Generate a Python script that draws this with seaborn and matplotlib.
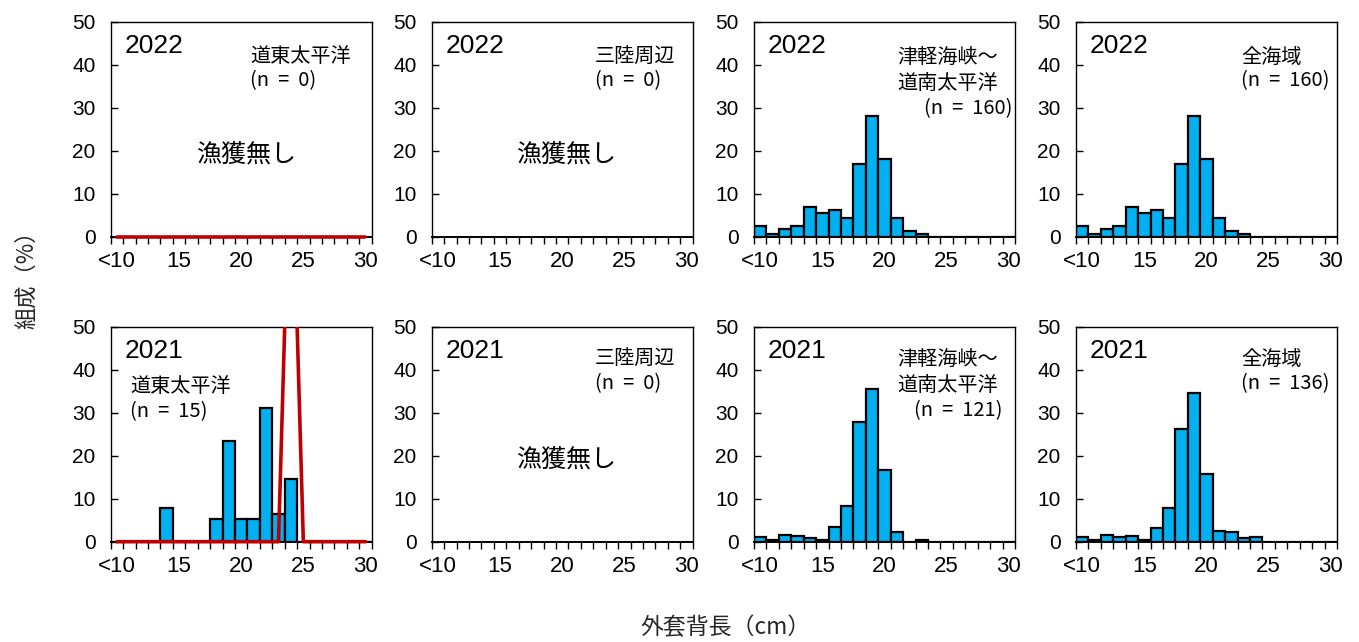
import numpy as np
import pandas as pd
import matplotlib
matplotlib.use("Agg")
import matplotlib.pyplot as plt
import seaborn as sns
from matplotlib import font_manager
from matplotlib.patches import Rectangle

# Mantle-length classes (cm); first class collects everything below 10 cm
length_classes = ["<10"] + [str(v) for v in range(11, 31)]
tick_labels = {0: "<10", 5: "15", 10: "20", 15: "25", 20: "30"}

# Composition (%) per length class
tsugaru_2022 = [2.5, 0.625, 1.875, 2.5, 6.875, 5.625, 6.25, 4.375, 16.875, 28.125,
                18.125, 4.375, 1.25, 0.625, 0, 0, 0, 0, 0, 0, 0]
all_2022 = [2.5, 0.625, 1.875, 2.5, 6.875, 5.625, 6.25, 4.375, 16.875, 28.125,
            18.125, 4.375, 1.25, 0.625, 0, 0, 0, 0, 0, 0, 0]
doto_2021 = [0, 0, 0, 0, 7.8, 0, 0, 0, 5.3, 23.5, 5.3, 5.3, 31.0, 6.5, 14.5,
             0, 0, 0, 0, 0, 0]
tsugaru_2021 = [1.1, 0.5, 1.5, 1.3, 0.8, 0.3, 3.5, 8.4, 27.8, 35.5, 16.7, 2.2,
                0, 0.3, 0, 0, 0, 0, 0, 0, 0]
all_2021 = [1.1, 0.5, 1.5, 1.1, 1.3, 0.3, 3.3, 7.9, 26.1, 34.6, 15.8, 2.5, 2.2,
            0.8, 1.1, 0, 0, 0, 0, 0, 0]

# Red comparison lines in the Doto Pacific panels
doto_line_2022 = [0] * 21
doto_line_2021 = [0] * 14 + [100] + [0] * 6

sns.set_theme(style="white")
available = {f.name for f in font_manager.fontManager.ttflist}
narrow = "Liberation Sans Narrow" if "Liberation Sans Narrow" in available else "Liberation Sans"
plt.rcParams["font.family"] = ["Liberation Sans", "Noto Sans CJK JP", "DejaVu Sans"]
JP = ["Noto Sans CJK JP", "DejaVu Sans"]

W, H = 1359, 642
fig = plt.figure(figsize=(W / 100, H / 100), dpi=100)

BAR_COLOR = "#00B0F0"
LINE_COLOR = "#C00000"

col_left = [110.7, 431.7, 754.0, 1076.0]
row_top = [21.7, 326.7]
panel_w, panel_h = 261.0, 215.0


def px(x, y):
    return x / W, 1 - y / H


def make_axes(col, row):
    l = col_left[col]
    t = row_top[row]
    return fig.add_axes([l / W, 1 - (t + panel_h) / H, panel_w / W, panel_h / H])


def style_axes(ax):
    ax.set_xlim(-0.5, 20.5)
    ax.set_ylim(0, 50)
    ax.set_yticks(range(0, 51, 10))
    ax.set_yticklabels([str(v) for v in range(0, 51, 10)], fontsize=15)
    ax.set_xticks(list(tick_labels.keys()))
    ax.set_xticklabels(list(tick_labels.values()), fontsize=16, family=narrow)
    ax.set_xticks(np.arange(-0.5, 21, 1.0), minor=True)
    ax.tick_params(axis="x", which="major", length=0, pad=10)
    ax.tick_params(axis="x", which="minor", direction="out", length=5, width=1,
                   color="black", bottom=True)
    ax.tick_params(axis="y", which="major", direction="in", length=5, width=1,
                   color="black", left=True, pad=11)
    ax.tick_params(colors="black", which="both")
    for s in ax.spines.values():
        s.set_color("black")
        s.set_linewidth(1.0)
    ax.spines["bottom"].set_linewidth(1.4)
    ax.set_xlabel("")
    ax.set_ylabel("")
    ax.grid(False)
    ax.set_facecolor("white")


def draw_bars(ax, values):
    df = pd.DataFrame({"cls": length_classes, "pct": values})
    sns.barplot(data=df, x="cls", y="pct", order=length_classes, ax=ax,
                color=BAR_COLOR, width=1.0, edgecolor="black", linewidth=1.6,
                saturation=1, errorbar=None)
    for p in ax.patches:
        p.set_facecolor(BAR_COLOR)


def draw_line(ax, values):
    df = pd.DataFrame({"pos": np.arange(len(values)), "pct": values})
    n_before = len(ax.lines)
    sns.lineplot(data=df, x="pos", y="pct", ax=ax, color=LINE_COLOR,
                 linewidth=2.6)
    # keep the line visible on the zero axis while clipping it at the top
    clip = Rectangle((0, -0.05), 1, 1.05, transform=ax.transAxes,
                     facecolor="none", edgecolor="none")
    for ln in ax.lines[n_before:]:
        ln.set_zorder(4)
        ln.set_clip_path(clip)


def txt(x, y, s, size=14, ha="left", va="center", family=None):
    fig.text(*px(x, y), s, fontsize=size, ha=ha, va=va,
             family=family if family else JP, color="black")


panels = [
    # (col, row, bars, line)
    (0, 0, None, doto_line_2022),
    (1, 0, None, None),
    (2, 0, tsugaru_2022, None),
    (3, 0, all_2022, None),
    (0, 1, doto_2021, doto_line_2021),
    (1, 1, None, None),
    (2, 1, tsugaru_2021, None),
    (3, 1, all_2021, None),
]

for col, row, bars, line in panels:
    ax = make_axes(col, row)
    if bars is not None:
        draw_bars(ax, bars)
    style_axes(ax)
    if line is not None:
        draw_line(ax, line)
    ax.set_xlabel("")
    ax.set_ylabel("")
    ax.set_xlim(-0.5, 20.5)
    ax.set_ylim(0, 50)
    year = "2022" if row == 0 else "2021"
    txt(col_left[col] + 14, row_top[row] + 24, year, size=19, family=[narrow] + JP)

NS = 14.5   # area name size
CS = 14.5   # sample size text

# Area labels and sample sizes
txt(250, 57, "道東太平洋", NS)
txt(250, 81, "(n  =  0)", CS)
txt(246, 155, "漁獲無し", 18, ha="center")

txt(595, 57, "三陸周辺", NS)
txt(595, 81, "(n  =  0)", CS)
txt(566, 155, "漁獲無し", 18, ha="center")

txt(897, 57, "津軽海峡～", NS)
txt(897, 83, "道南太平洋", NS)
txt(1013, 109, "(n  =  160)", CS, ha="right")

txt(1241, 57, "全海域", NS)
txt(1241, 81, "(n  =  160)", CS)

txt(130, 387, "道東太平洋", NS)
txt(130, 412, "(n  =  15)", CS)

txt(595, 359, "三陸周辺", NS)
txt(595, 384, "(n  =  0)", CS)
txt(566, 460, "漁獲無し", 18, ha="center")

txt(897, 359, "津軽海峡～", NS)
txt(897, 385, "道南太平洋", NS)
txt(1003, 411, "(n  =  121)", CS, ha="right")

txt(1241, 359, "全海域", NS)
txt(1241, 384, "(n  =  136)", CS)

# Shared axis titles
fig.text(*px(27, 274), "組成（%）", rotation=90, ha="center", va="center",
         fontsize=16, family=JP)
fig.text(*px(726, 628), "外套背長（cm）", ha="center", va="center",
         fontsize=16.5, family=JP)

fig.savefig("out.png", dpi=100, facecolor="white")
